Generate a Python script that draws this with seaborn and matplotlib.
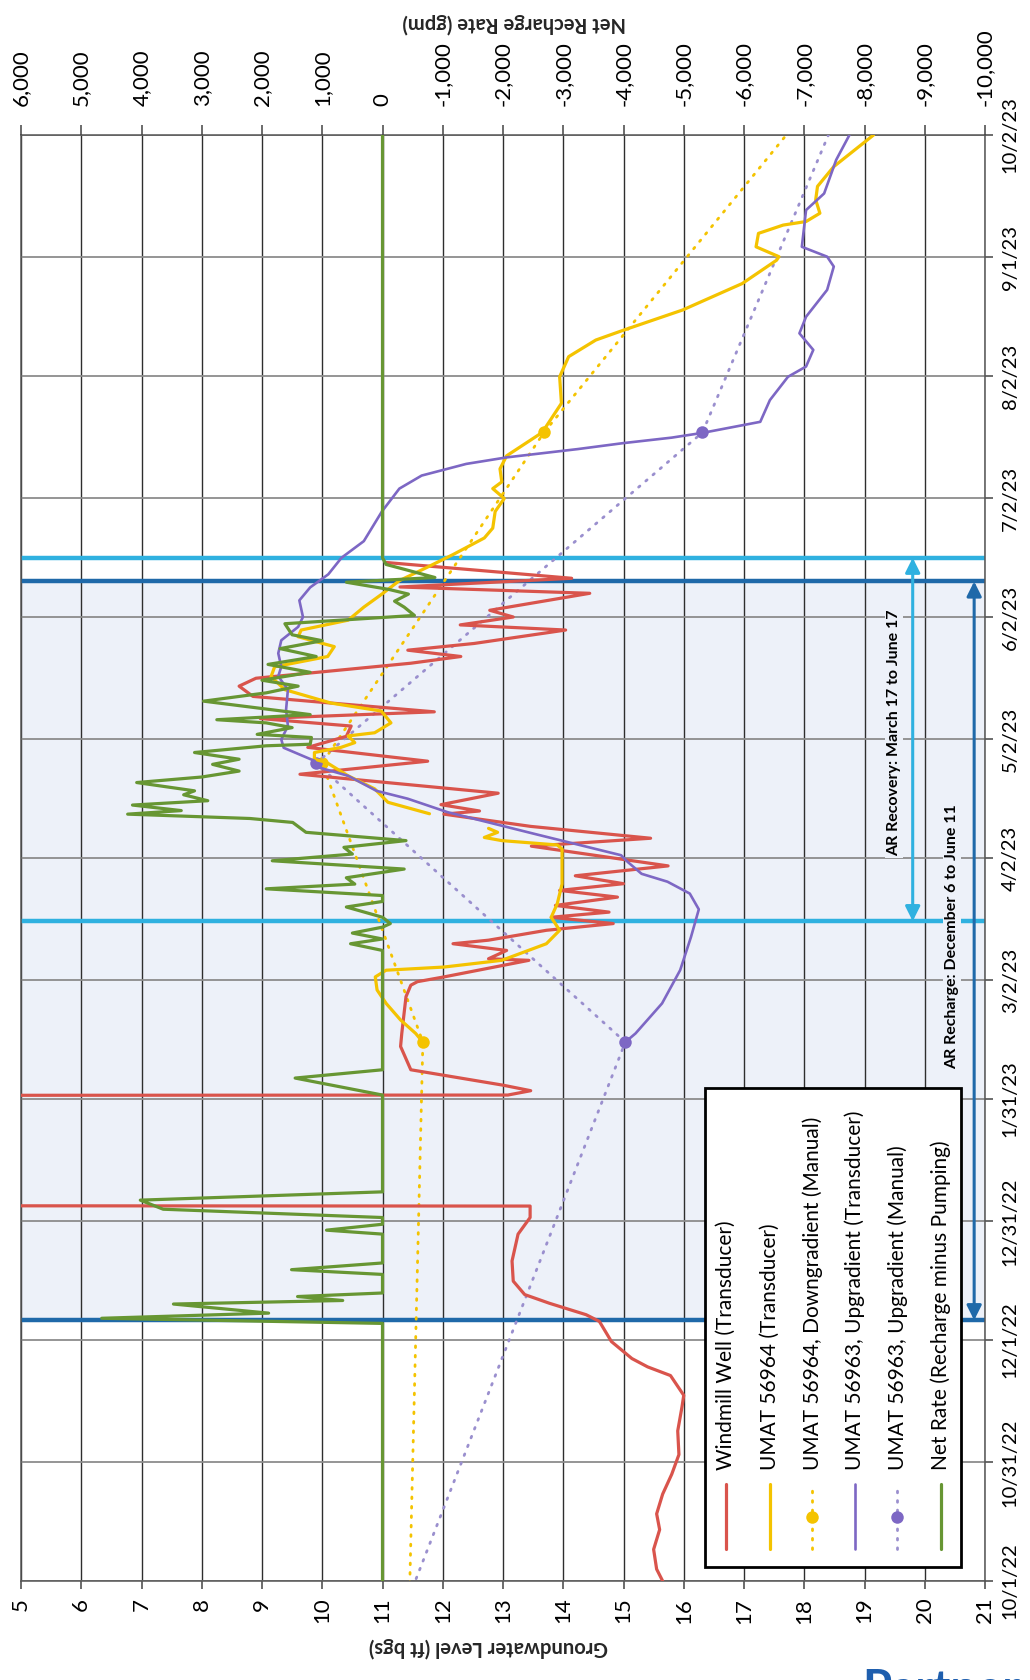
import numpy as np
import pandas as pd
import matplotlib
matplotlib.use('Agg')
import matplotlib.pyplot as plt
import matplotlib.dates as mdates
from matplotlib.lines import Line2D
from matplotlib.patches import Rectangle
import seaborn as sns

sns.set_theme(style='white')
plt.rcParams['font.family'] = ['Lato', 'DejaVu Sans']
plt.rcParams['axes.unicode_minus'] = False

start = pd.Timestamp('2022-10-01')
end = pd.Timestamp('2023-10-02')

# Windmill Well (Transducer), days since 10/1/22 vs ft bgs (0 = reading off the chart)
windmill_day = [0, 3, 8, 13, 17, 22, 27, 32, 38, 44, 47, 52, 54.2, 56.3, 60.6, 65.7, 67.4, 70.3,
                72.5, 75.9, 81, 87.8, 92, 94.9, 95.0, 122.9, 123.0, 124.1, 125.5, 129.4, 135.3,
                138.6, 147.9, 150.8, 151.7, 152.9, 157.1, 157.5, 159.6, 161.3, 162.2, 164.7, 166.4,
                168.0, 169.3, 171.0, 173.1, 174.8, 176.5, 178.5, 181.0, 186.0, 188.0, 191.0, 194.1,
                194.9, 196.5, 199.4, 204.2, 207.5, 211.0, 213.8, 216.4, 218.3, 220.0, 223.9, 226.5,
                228.5, 232.3, 234.0, 235.6, 237.3, 240.7, 242.0, 244.0, 245.7, 250.0, 251.6, 253.8,
                257.8]
windmill_ft = [15.65, 15.55, 15.5, 15.6, 15.55, 15.65, 15.8, 15.92, 15.9, 15.97, 16.0, 15.78, 15.4,
               15.14, 14.8, 14.6, 14.38, 13.77, 13.36, 13.17, 13.15, 13.25, 13.45, 13.45, 0.0, 0.0,
               13.08, 13.46, 13.0, 11.47, 11.3, 11.32, 11.39, 11.47, 11.58, 12.02, 13.43, 12.76,
               13.06, 12.17, 12.76, 13.72, 14.83, 13.8, 14.76, 13.87, 14.9, 13.94, 15.0, 14.2, 15.74,
               13.47, 15.45, 13.46, 12.02, 12.61, 11.97, 12.92, 9.63, 11.75, 9.76, 10.4, 10.48, 8.97,
               11.86, 8.85, 8.62, 8.9, 11.47, 12.3, 11.42, 12.52, 14.04, 12.29, 13.17, 12.78, 14.44,
               11.29, 14.14, 11.06]

# UMAT 56964 (Transducer), two recorded pieces
u64_day_a = [136.4, 138.6, 142, 146.2, 149.6, 152.9, 154.6, 155.4, 157.1, 161.3, 164.7, 168, 171.4,
             176.4, 185.3, 186.3, 187.4, 188.2, 189.5, 190.5]
u64_ft_a = [11.67, 11.55, 11.3, 11.06, 10.91, 10.88, 11.06, 12.02, 12.98, 13.72, 13.94, 13.8, 13.9,
            13.98, 13.98, 13.9, 12.98, 12.69, 12.91, 12.76]
u64_day_b = [194.2, 197.1, 200.5, 203.8, 207.2, 208, 209.7, 211, 212.2, 213.9, 214.7, 217.2, 220.2,
             222.2, 225.6, 228.9, 231.4, 234, 236.5, 239, 240.7, 243.2, 246.5, 249.8, 253.2, 256.5,
             259.8, 264, 266.5, 270.7, 274, 276.5, 278.2, 281.5, 284.8, 290.7, 298.1, 304.8, 309.9,
             314.1, 316.6, 321.7, 328.4, 334.3, 335.2, 337.7, 341.1, 343.2, 344.1, 346.2, 349.6, 353,
             358, 366]
u64_ft_b = [11.78, 11.09, 10.87, 10.43, 10.07, 9.87, 9.87, 10.31, 10.54, 10.43, 10.87, 11.14, 10.98,
            10.15, 9.38, 9.15, 9.21, 10.09, 10.2, 9.6, 9.65, 10.43, 10.69, 10.99, 11.28, 11.73, 12.17,
            12.69, 12.83, 12.87, 13.02, 12.83, 12.98, 12.95, 13.06, 13.65, 13.97, 13.94, 14.09, 14.54,
            15.0, 15.98, 16.97, 17.54, 17.58, 17.2, 17.24, 17.65, 18.03, 18.26, 18.19, 18.22, 18.49,
            19.15]

# UMAT 56963 (Transducer)
u63_day = [136.4, 138.6, 146.2, 154.6, 163, 170, 174, 177, 179, 182, 183.7, 189, 194.6, 198, 200,
           203.8, 205.9, 207.6, 210.9, 213, 216.4, 220.6, 225.6, 229, 231.4, 234.8, 238.1, 241.5,
           244, 248.2, 251.5, 254.8, 259, 263.2, 270.7, 276.5, 279.8, 282.75, 284.4, 286.5, 288,
           289.4, 290.6, 293.4, 298.9, 304.8, 307.4, 311.6, 315.8, 320, 326.8, 332.7, 335.2, 337.7,
           347, 351.2, 359.7, 366]
u63_ft = [15.03, 15.2, 15.64, 15.94, 16.12, 16.25, 16.1, 15.73, 15.3, 15.07, 14.96, 13.55, 12.08,
          11.42, 10.9, 10.43, 9.95, 9.87, 9.36, 9.32, 9.43, 9.4, 9.43, 9.27, 9.32, 9.27, 9.32, 9.6,
          9.68, 9.62, 9.8, 10.1, 10.32, 10.69, 10.99, 11.28, 11.65, 12.39, 13.06, 14.24, 14.99, 15.8,
          16.31, 17.27, 17.43, 17.73, 18.03, 18.15, 17.92, 18.03, 18.38, 18.49, 18.38, 17.96, 18.03,
          18.33, 18.53, 18.75]

# manual readings (first and last lie outside the plotted period)
manual_day = [-15, 136.4, 207, 290.7, 380]
u64_manual_ft = [11.43, 11.67, 10.0, 13.68, 18.45]
u63_manual_ft = [11.16, 15.03, 9.9, 16.31, 18.79]

# Net Rate (Recharge minus Pumping), gpm
net_day = [0, 65.2, 66.5, 67.8, 70.1, 71.0, 72.0, 72.9, 77.6, 78.8, 80.5, 87.8, 88.8, 90.3, 92.0,
           94.1, 96.4, 98.5, 123.0, 127.3, 129.4, 159.6, 161.3, 162.5, 164.0, 165.5, 166.4, 168.0,
           170.6, 172.0, 173.5, 175.2, 176.4, 178.0, 180.2, 182.3, 184.0, 185.7, 187.4, 189.5,
           192.0, 193.0, 194.1, 195.0, 196.4, 197.5, 199.0, 200.0, 202.1, 203.5, 205.0, 206.7,
           208.0, 209.7, 211.4, 211.8, 213.5, 214.3, 216.0, 217.2, 218.0, 219.3, 222.7, 224.8,
           226.5, 228.0, 230.0, 232.0, 234.0, 236.0, 238.0, 239.5, 242.3, 244.4, 246.5, 248.0,
           249.8, 251.0, 252.8, 254.0, 257.3, 259.0, 366]
net_gpm = [0, 0, 4660, 1890, 3470, 660, 1410, 0, 0, 1510, 0, 0, 930, 0, 0, 3640, 4020, 0, 0, 1450,
           0, 0, 530, 0, 500, 0, -130, 0, 600, 0, 0, 1930, 460, 600, -360, 1830, 500, 640, -390,
           1270, 1490, 2200, 4230, 3340, 4150, 2900, 3300, 3120, 4080, 3000, 2380, 2820, 2380, 3120,
           1930, 1200, 1180, 2080, 1500, 1930, 2750, 1200, 2970, 1930, 1400, 2000, 1200, 1900, 1100,
           1700, 1000, 1500, 1620, -530, -360, -200, -430, -100, 600, -870, -60, 0, 0]

gw_ticks = list(range(5, 22))
net_ticks = list(range(6000, -10001, -1000))
date_ticks = ['2022-10-01', '2022-10-31', '2022-12-01', '2022-12-31', '2023-01-31', '2023-03-02',
              '2023-04-02', '2023-05-02', '2023-06-02', '2023-07-02', '2023-08-02', '2023-09-01',
              '2023-10-02']
date_labels = ['10/1/22', '10/31/22', '12/1/22', '12/31/22', '1/31/23', '3/2/23', '4/2/23',
               '5/2/23', '6/2/23', '7/2/23', '8/2/23', '9/1/23', '10/2/23']

legend_labels = ['Windmill Well (Transducer)', 'UMAT 56964 (Transducer)',
                 'UMAT 56964, Downgradient (Manual)', 'UMAT 56963, Upgradient (Transducer)',
                 'UMAT 56963, Upgradient (Manual)', 'Net Rate (Recharge minus Pumping)']

recharge_start, recharge_end = '2022-12-06', '2023-06-11'
recovery_start, recovery_end = '2023-03-17', '2023-06-17'

red = '#d9544c'
yellow = '#f4c300'
purple = '#7d67c4'
purple_light = '#9a8fce'
green = '#679633'
dark_blue = '#1f69a9'
light_blue = '#2fb1e0'
shade = '#edf1f9'


def to_dates(days):
    return start + pd.to_timedelta(np.asarray(days, dtype=float), unit='D')


def dnum(s):
    return mdates.date2num(pd.Timestamp(s))


fig = plt.figure(figsize=(10.3, 16.8), dpi=100)
ax = fig.add_axes([21 / 1030, 1 - 1581 / 1680, 964 / 1030, 1446 / 1680])
ax2 = ax.twiny()

# groundwater series on the primary axis
wm = pd.DataFrame({'date': to_dates(windmill_day), 'ft': windmill_ft})
sns.lineplot(data=wm, x='ft', y='date', sort=False, estimator=None, orient='y',
             color=red, lw=2.3, ax=ax, zorder=3.0)

u64 = pd.DataFrame({'date': to_dates(u64_day_a + u64_day_b), 'ft': u64_ft_a + u64_ft_b,
                    'seg': ['a'] * len(u64_day_a) + ['b'] * len(u64_day_b)})
sns.lineplot(data=u64, x='ft', y='date', units='seg', sort=False, estimator=None, orient='y',
             color=yellow, lw=2.3, ax=ax, zorder=3.1)

u63 = pd.DataFrame({'date': to_dates(u63_day), 'ft': u63_ft})
sns.lineplot(data=u63, x='ft', y='date', sort=False, estimator=None, orient='y',
             color=purple, lw=1.9, ax=ax, zorder=3.3)

man64 = pd.DataFrame({'date': to_dates(manual_day), 'ft': u64_manual_ft})
sns.lineplot(data=man64, x='ft', y='date', sort=False, estimator=None, orient='y',
             color=yellow, lw=2.0, linestyle=(0, (0.6, 2.8)), dash_capstyle='round',
             marker='o', markersize=9, markeredgewidth=0, markeredgecolor=yellow,
             ax=ax, zorder=2.8)

man63 = pd.DataFrame({'date': to_dates(manual_day), 'ft': u63_manual_ft})
sns.lineplot(data=man63, x='ft', y='date', sort=False, estimator=None, orient='y',
             color=purple_light, lw=2.0, linestyle=(0, (0.6, 2.8)), dash_capstyle='round',
             marker='o', markersize=9, markeredgewidth=0, markeredgecolor=purple_light,
             markerfacecolor=purple, ax=ax, zorder=2.9)

# net recharge on the secondary axis
net = pd.DataFrame({'date': to_dates(net_day), 'gpm': net_gpm})
sns.lineplot(data=net, x='gpm', y='date', sort=False, estimator=None, orient='y',
             color=green, lw=2.3, ax=ax2, zorder=3)

# AR periods
ax.axhspan(pd.Timestamp(recharge_start), pd.Timestamp(recharge_end), color=shade, lw=0, zorder=0)
for d, c in [(recharge_start, dark_blue), (recharge_end, dark_blue),
             (recovery_start, light_blue), (recovery_end, light_blue)]:
    ax.axhline(pd.Timestamp(d), color=c, lw=3.2, zorder=1.5)

ax.annotate('', xy=(19.8, dnum(recovery_start)), xytext=(19.8, dnum(recovery_end)),
            arrowprops=dict(arrowstyle='<|-|>', color=light_blue, lw=2.2, mutation_scale=22,
                            shrinkA=0, shrinkB=0), zorder=4)
ax.annotate('', xy=(20.82, dnum(recharge_start)), xytext=(20.82, dnum(recharge_end)),
            arrowprops=dict(arrowstyle='<|-|>', color=dark_blue, lw=2.2, mutation_scale=22,
                            shrinkA=0, shrinkB=0), zorder=4)
ax.text(19.49, dnum('2023-05-02') + 1.8, 'AR Recovery: March 17 to June 17', rotation=90,
        ha='center', va='center', fontsize=11.5, fontweight='bold', color='black', zorder=5,
        bbox=dict(facecolor=shade, edgecolor='none', pad=1.5))
ax.text(20.45, dnum('2023-03-13'), 'AR Recharge: December 6 to June 11', rotation=90,
        ha='center', va='center', fontsize=11.5, fontweight='bold', color='black', zorder=5,
        bbox=dict(facecolor=shade, edgecolor='none', pad=1.5))

# axes, ticks, grid
ax.set_xlim(5, 21)
ax2.set_xlim(6000, -10000)
ax.set_ylim(start, end)

ax.set_xticks(gw_ticks, [str(v) for v in gw_ticks], rotation=90, fontsize=16)
ax2.set_xticks(net_ticks, [f'{v:,}' for v in net_ticks], rotation=90, fontsize=16)
ax.set_yticks([pd.Timestamp(d) for d in date_ticks], date_labels, rotation=90, va='center',
              fontsize=14.5)

ax.tick_params(axis='x', bottom=True, direction='out', length=6, width=1.1, color='#444444',
               pad=6, labelcolor='black')
ax2.tick_params(axis='x', top=True, direction='out', length=7, width=1.1, color='#444444',
                pad=14, labelcolor='black')
ax.tick_params(axis='y', left=False, labelleft=False, right=True, labelright=True,
               direction='out', length=6, width=1.1, color='#444444', pad=6, labelcolor='black')

ax.set_axisbelow(True)
ax.grid(True, axis='x', color='#2e2e2e', lw=1.0)
ax.grid(True, axis='y', color='#8c8c8c', lw=1.3)
ax2.grid(False)
for s in ax.spines.values():
    s.set_color('#555555')
    s.set_linewidth(1.1)
for s in ax2.spines.values():
    s.set_visible(False)

ax.set_xlabel('Groundwater Level (ft bgs)', rotation=180, fontsize=14.5, fontweight='bold')
ax.xaxis.set_label_coords(0.485, -0.039)
ax.set_ylabel('')
ax2.set_xlabel('Net Recharge Rate (gpm)', rotation=180, fontsize=14.5, fontweight='bold')
ax2.xaxis.set_label_coords(0.512, 1.073)
ax2.set_ylabel('')

# legend, drawn in place (rotated with the page)
ax2.add_patch(Rectangle((0.71, 0.0097), 0.265, 0.331, transform=ax2.transAxes,
                        facecolor='white', edgecolor='black', lw=2.0, zorder=10))
leg_x = [0.731, 0.777, 0.821, 0.865, 0.909, 0.954]
leg_style = [
    dict(color=red, lw=2.3),
    dict(color=yellow, lw=2.3),
    dict(color=yellow, lw=2.0, linestyle=(0, (0.6, 2.8)), dash_capstyle='round'),
    dict(color=purple, lw=1.9),
    dict(color=purple_light, lw=2.0, linestyle=(0, (0.6, 2.8)), dash_capstyle='round'),
    dict(color=green, lw=2.3),
]
leg_marker = [None, None, yellow, None, purple, None]
for x, lab, st, mk in zip(leg_x, legend_labels, leg_style, leg_marker):
    ax2.add_line(Line2D([x, x], [0.022, 0.067], transform=ax2.transAxes, zorder=11, **st))
    if mk:
        ax2.add_line(Line2D([x], [0.0445], transform=ax2.transAxes, marker='o', markersize=9,
                            markerfacecolor=mk, markeredgewidth=0, linestyle='none', zorder=12))
    ax2.text(x, 0.0768, lab, transform=ax2.transAxes, rotation=90, ha='center', va='bottom',
             fontsize=15, color='black', zorder=12)

# logo edge at the foot of the page
fig.text(862 / 1030, 1 - 1668 / 1680, 'Partner', ha='left', va='top', fontsize=34,
         fontweight='bold', color='#1f5fae')

fig.savefig('out.png', dpi=100)
